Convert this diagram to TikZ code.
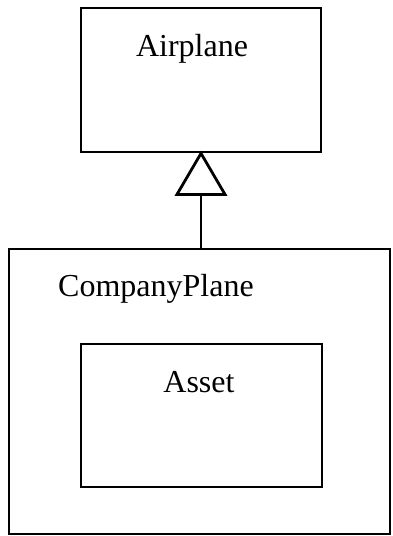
\documentclass[tikz,border=0pt]{standalone}
\usepackage{fontspec}
\setmainfont{Liberation Serif}
\usetikzlibrary{calc}
\begin{document}
\begin{tikzpicture}[x=1pt,y=-1pt,
  classbox/.style={draw,line width=2.8pt,rectangle,inner sep=0pt},
  classname/.style={inner sep=0pt,font=\fontsize{32}{36}\selectfont},
  inherit/.style={line width=2.8pt}]
  \useasboundingbox (0,0) rectangle (392,536);
  % superclass
  \node[classbox,minimum width=240pt,minimum height=144pt] (airplane) at (201,80) {};
  \node[classname,anchor=base] (airplanename) at (192,56) {Airplane};
  % subclass with nested component
  \node[classbox,line width=2.3pt,minimum width=381pt,minimum height=285pt] (company) at (199.5,391.5) {};
  \node[classname,anchor=base west] (companyname) at (58,296) {CompanyPlane};
  \node[classbox,line width=2.5pt,minimum width=241pt,minimum height=143pt] (asset) at (201.5,415.5) {};
  \node[classname,anchor=base] (assetname) at (199,392) {Asset};
  % generalization: open triangle at the superclass, stem down to the subclass
  \coordinate (triangle base) at ($(airplane.south)+(0,41)$);
  \draw[inherit,line join=miter] (airplane.south) -- ++(-24,41) -- ++(48,0) -- cycle;
  \draw[inherit] (airplane.south |- company.north) -- (triangle base);
\end{tikzpicture}
\end{document}
